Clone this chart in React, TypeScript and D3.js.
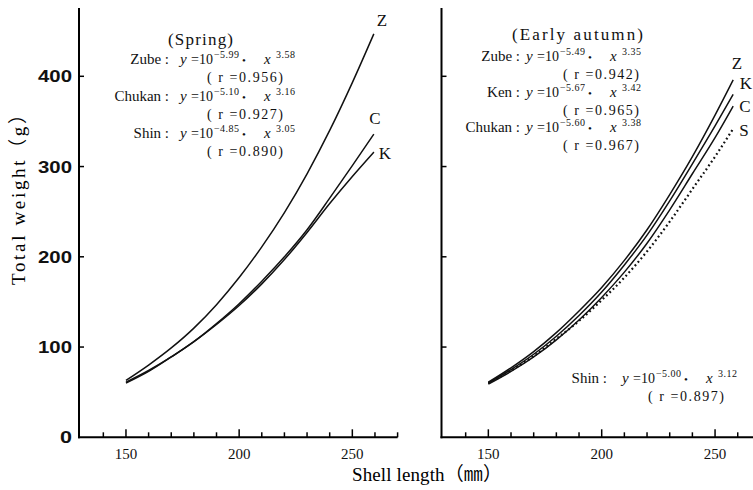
import React from "react";
import * as d3 from "d3";

// ---- data ----
const springLength = [150, 160, 170, 180, 190, 200, 210, 220, 230, 240, 250, 259.5];
const springZube = [63, 80, 99, 121, 147, 177, 211, 249, 292, 340, 393, 447];
const springChukan = [60, 73, 89, 106, 126, 148, 173, 200, 230, 265, 301, 336];
const springKen = [61, 74, 89, 106, 125, 146, 170, 197, 227, 259, 289, 316];

const autumnLength = [150, 160, 170, 180, 190, 200, 210, 220, 230, 240, 250, 258];
const autumnZube = [61, 77, 95, 116, 140, 166, 196, 230, 269, 311, 357, 396];
const autumnKen = [60, 75, 92, 112, 135, 161, 191, 224, 262, 303, 345, 380];
const autumnChukan = [59, 73, 89, 108, 130, 155, 183, 215, 252, 292, 332, 367];
const autumnShin = [60, 74, 90, 109, 129, 152, 177, 206, 239, 275, 311, 342];

const xTickValues = [140, 150, 160, 170, 180, 190, 200, 210, 220, 230, 240, 250, 260, 270];
const xTickLabels = [150, 200, 250];
const yTickValues = [100, 200, 300, 400];
const yTickLabels = [0, 100, 200, 300, 400];

const springEqs = [
  { name: "Zube", a: "5.99", b: "3.58", r: "0.956" },
  { name: "Chukan", a: "5.10", b: "3.16", r: "0.927" },
  { name: "Shin", a: "4.85", b: "3.05", r: "0.890" },
];
const autumnEqs = [
  { name: "Zube", a: "5.49", b: "3.35", r: "0.942" },
  { name: "Ken", a: "5.67", b: "3.42", r: "0.965" },
  { name: "Chukan", a: "5.60", b: "3.38", r: "0.967" },
];
const autumnShinEq = { name: "Shin", a: "5.00", b: "3.12", r: "0.897" };

const SERIF = "'Liberation Serif', 'DejaVu Serif', serif";
const CJK = "'Liberation Serif', 'Noto Sans CJK JP', serif";

const y = d3.scaleLinear().domain([0, 400]).range([437.3, 76.3]);
const xL = d3.scaleLinear().domain([130, 270]).range([80.7, 397.6]);
const xR = d3.scaleLinear().domain([130, 270]).range([443, 760.4]);

function makeLine(xs: d3.ScaleLinear<number, number>, lens: number[], vals: number[]) {
  const pts = lens.map((l, i) => [l, vals[i]] as [number, number]);
  return d3
    .line<[number, number]>()
    .x((d) => xs(d[0]))
    .y((d) => y(d[1]))
    .curve(d3.curveMonotoneX)(pts) as string;
}

function Eq({ lx, ex, yb, rx, e }: { lx: number; ex: number; yb: number; rx: number; e: any }) {
  return (
    <g fontFamily={SERIF} fill="#111">
      <text x={lx} y={yb} textAnchor="end" fontSize={15}>
        {e.name} :
      </text>
      <text x={ex} y={yb} fontSize={15} fontStyle="italic">
        y
      </text>
      <text x={ex + 11} y={yb} fontSize={14} textLength={22} lengthAdjust="spacing">
        =10
      </text>
      <text x={ex + 34} y={yb - 6} fontSize={10} textLength={25} lengthAdjust="spacing">
        −{e.a}
      </text>
      <text x={ex + 62} y={yb} fontSize={11}>
        •
      </text>
      <text x={ex + 84} y={yb} fontSize={15} fontStyle="italic">
        x
      </text>
      <text x={ex + 96} y={yb - 6} fontSize={10} textLength={19} lengthAdjust="spacing">
        {e.b}
      </text>
      <text x={rx} y={yb + 18} fontSize={14} textLength={76} lengthAdjust="spacing">
        ( r ={e.r})
      </text>
    </g>
  );
}

function Axes({ xs, x0, x1 }: { xs: d3.ScaleLinear<number, number>; x0: number; x1: number }) {
  return (
    <g stroke="#000" fill="none">
      <line x1={x0} x2={x0} y1={8} y2={438.3} strokeWidth={2} />
      <line x1={x0 - 1} x2={x1} y1={437.3} y2={437.3} strokeWidth={2} />
      {xTickValues.map((t) => (
        <line
          key={t}
          x1={xs(t)}
          x2={xs(t)}
          y1={437.3}
          y2={437.3 - (t % 50 === 0 ? 8 : 5)}
          strokeWidth={1.5}
        />
      ))}
      {yTickValues.map((t) => (
        <line key={t} x1={x0} x2={x0 + 5} y1={y(t)} y2={y(t)} strokeWidth={1.5} />
      ))}
    </g>
  );
}

export default function App() {
  return (
    <svg width={753} height={490} style={{ position: "absolute", left: 0, top: 0, background: "#fff" }}>
      <rect x={0} y={0} width={753} height={490} fill="#fff" />
      <Axes xs={xL} x0={79} x1={397.6} />
      <Axes xs={xR} x0={441.5} x1={753} />

      {/* y tick labels */}
      <g fontFamily="'Liberation Sans', Arial, sans-serif" fontWeight="bold" fontSize={17} fill="#111">
        {yTickLabels.map((t) => (
          <text
            key={t}
            x={72}
            y={y(t) + 6}
            textAnchor="end"
            textLength={t === 0 ? 12 : 34}
            lengthAdjust="spacingAndGlyphs"
          >
            {t}
          </text>
        ))}
      </g>

      {/* x tick labels */}
      <g fontFamily={SERIF} fontSize={15} fill="#111" textAnchor="middle">
        {xTickLabels.map((t) => (
          <text key={"l" + t} x={xL(t)} y={459}>
            {t}
          </text>
        ))}
        {xTickLabels.map((t) => (
          <text key={"r" + t} x={xR(t)} y={459}>
            {t}
          </text>
        ))}
      </g>

      {/* axis titles */}
      <text
        transform="translate(25,195) rotate(-90)"
        textAnchor="middle"
        fontFamily={CJK}
        fontSize={19}
        fill="#000"
        textLength={180}
        lengthAdjust="spacing"
      >
        Total weight（g）
      </text>
      <text x={352} y={481} fontFamily={CJK} fontSize={19} fill="#000" textLength={150} lengthAdjust="spacing">
        Shell length（㎜）
      </text>

      {/* curves */}
      <g fill="none" stroke="#111" strokeWidth={1.5}>
        <path d={makeLine(xL, springLength, springZube)} />
        <path d={makeLine(xL, springLength, springChukan)} />
        <path d={makeLine(xL, springLength, springKen)} />
        <path d={makeLine(xR, autumnLength, autumnZube)} />
        <path d={makeLine(xR, autumnLength, autumnKen)} />
        <path d={makeLine(xR, autumnLength, autumnChukan)} />
        <path d={makeLine(xR, autumnLength, autumnShin)} strokeWidth={2.2} strokeDasharray="1.8 2.8" />
      </g>

      {/* curve labels */}
      <g fontFamily={SERIF} fontSize={17} fill="#111" textAnchor="middle">
        <text x={382} y={26}>Z</text>
        <text x={375} y={124}>C</text>
        <text x={385} y={159}>K</text>
        <text x={737} y={69}>Z</text>
        <text x={746} y={89}>K</text>
        <text x={745} y={112}>C</text>
        <text x={744} y={136}>S</text>
      </g>

      {/* panel titles */}
      <text x={168} y={45} fontFamily={SERIF} fontSize={17} fill="#111" textLength={65} lengthAdjust="spacing">
        (Spring)
      </text>
      <text x={512} y={40} fontFamily={SERIF} fontSize={17} fill="#111" textLength={131} lengthAdjust="spacing">
        (Early autumn)
      </text>

      {/* equations */}
      {springEqs.map((e, i) => (
        <Eq key={"s" + i} lx={169} ex={180} yb={64 + i * 37} rx={207} e={e} />
      ))}
      {autumnEqs.map((e, i) => (
        <Eq key={"a" + i} lx={520} ex={526} yb={61 + i * 35.5} rx={563} e={e} />
      ))}
      <Eq lx={607} ex={622} yb={383} rx={648} e={autumnShinEq} />
    </svg>
  );
}
